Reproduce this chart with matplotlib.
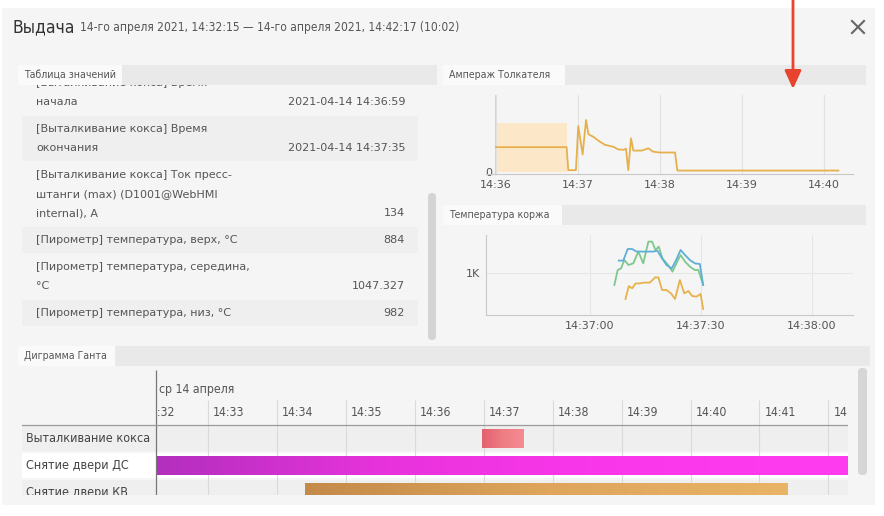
import matplotlib
matplotlib.use("Agg")
import matplotlib.pyplot as plt
import matplotlib.font_manager as fm
import matplotlib.transforms as mtransforms
import numpy as np
from matplotlib.colors import LinearSegmentedColormap
from matplotlib.patches import FancyArrowPatch, FancyBboxPatch, Rectangle

W, H = 884, 516

# ---- data ----
title = "Выдача"
period = "14-го апреля 2021, 14:32:15 — 14-го апреля 2021, 14:42:17 (10:02)"

table_labels = [
    ["[Выталкивание кокса] Время", "начала"],
    ["[Выталкивание кокса] Время", "окончания"],
    ["[Выталкивание кокса] Ток пресс-", "штанги (max) (D1001@WebHMI", "internal), A"],
    ["[Пирометр] температура, верх, °C"],
    ["[Пирометр] температура, середина,", "°C"],
    ["[Пирометр] температура, низ, °C"],
]
table_values = ["2021-04-14 14:36:59", "2021-04-14 14:37:35", "134", "884", "1047.327", "982"]

# pusher current, seconds after 14:36:00
amp_t = [0, 51.7, 52.9, 58.5, 60.2, 63.4, 65.9, 67.6, 71.2, 76.1, 79.8, 85.9, 89.5,
         93.2, 95.1, 96.8, 98.8, 100.5, 106.6, 111.5, 115.1, 120, 131, 132.7, 250.5]
amp_v = [64, 64, 4, 4, 119, 45, 135, 98, 91, 78, 70, 65, 58,
         57, 60, 4, 87, 55, 55, 61, 52, 50, 50, 3, 3]
amp_band_t = [0, 51.7]
amp_band_top = 128
amp_ticks = [0, 60, 120, 180, 240]
amp_tick_labels = ["14:36", "14:37", "14:38", "14:39", "14:40"]

# cake temperature, seconds after 14:37:00
green_t = [6.6, 7.5, 8.4, 9.3, 10.4, 11.7, 13.1, 14.4, 15.8, 16.8, 17.7, 18.6, 19.6,
           21.1, 22.3, 23.6, 24.5, 25.7, 27.0, 28.3, 29.3, 30.6]
green_v = [940, 1015, 1023, 1065, 1040, 1048, 1107, 1048, 1157, 1157, 1115, 1132, 1073,
           1040, 1007, 1057, 1090, 1057, 1032, 1015, 1015, 940]
blue_t = [7.8, 9.0, 10.2, 11.4, 12.6, 14.0, 15.3, 17.1, 18.2, 19.5, 20.7, 22.1, 23.3,
          24.5, 25.7, 27.0, 28.4, 29.7, 30.6]
blue_v = [1062, 1062, 1120, 1120, 1107, 1107, 1107, 1107, 1112, 1073, 1040, 1023, 1065,
          1115, 1090, 1065, 1048, 1045, 940]
orange_t = [9.6, 10.5, 11.4, 12.3, 13.5, 14.6, 16.2, 17.6, 18.5, 19.5, 20.7, 21.9, 23.0,
            24.3, 25.5, 26.6, 27.6, 28.8, 29.9, 30.6]
orange_v = [870, 935, 923, 948, 948, 952, 952, 978, 978, 915, 915, 898, 870,
            965, 898, 910, 885, 882, 895, 820]
temp_ticks = [0, 30, 60]
temp_tick_labels = ["14:37:00", "14:37:30", "14:38:00"]

# gantt, seconds after 14:32:00
gantt_rows = ["Выталкивание кокса", "Снятие двери ДС", "Снятие двери КВ"]
gantt_start = [299, 15, 145]
gantt_end = [335, 617, 565]
gantt_view = [15, 617]
gantt_ticks = [0, 60, 120, 180, 240, 300, 360, 420, 480, 540, 600]
gantt_tick_labels = ["14:32", "14:33", "14:34", "14:35", "14:36", "14:37",
                     "14:38", "14:39", "14:40", "14:41", "14:42"]
gantt_day = "ср 14 апреля"

# ---- fonts ----
entries = fm.fontManager.ttflist
if any(f.name == "DejaVu Sans" and f.stretch == "condensed" for f in entries):
    COND = dict(family="DejaVu Sans", fontstretch="condensed")
elif any(f.name == "Liberation Sans Narrow" for f in entries):
    COND = dict(family="Liberation Sans Narrow")
else:
    COND = dict(family="Roboto")
plt.rcParams["font.family"] = "DejaVu Sans"
TXT = "#555555"

fig = plt.figure(figsize=(W / 100, H / 100), dpi=100)
fig.patch.set_facecolor("white")


def px_axes(x0, y0, x1, y1):
    return fig.add_axes([x0 / W, 1 - y1 / H, (x1 - x0) / W, (y1 - y0) / H])


ui = fig.add_axes([0, 0, 1, 1])
ui.set_xlim(0, W)
ui.set_ylim(H, 0)
ui.axis("off")

# dialog + header
ui.add_patch(Rectangle((2, 8), 873, 497, fc="#f5f5f5", ec="none"))
ui.text(12, 27, title, fontsize=12.5, color="#333333", va="center", **COND)
ui.text(80, 28, period, fontsize=8.6, color=TXT, va="center", **COND)
ui.plot([852, 864], [21, 33], color="#666666", lw=1.5)
ui.plot([852, 864], [33, 21], color="#666666", lw=1.5)

# panels with tabs
panels = [
    (18, 65, 437, 343, "Таблица значений", 104),
    (443, 65, 866, 200, "Ампераж Толкателя", 122),
    (443, 205, 866, 343, "Температура коржа", 119),
    (18, 346, 870, 497, "Диграмма Ганта", 97),
]
for x0, y0, x1, y1, name, tw in panels:
    ui.add_patch(Rectangle((x0, y0), x1 - x0, y1 - y0, fc="#fcfcfc", ec="none", zorder=0.5))
    ui.add_patch(Rectangle((x0, y0), x1 - x0, 20, fc="#e9e9e9", ec="none", zorder=3))
    ui.add_patch(Rectangle((x0, y0), tw, 20, fc="#fafafa", ec="none", zorder=3.1))
    ui.text(x0 + 6, y0 + 10, name, fontsize=7.6, color=TXT, va="center", zorder=4, **COND)

# value table (scrolled: first line hides under the tab strip)
table_clip = mtransforms.TransformedBbox(
    mtransforms.Bbox.from_extents(18, 85, 437, 343), ui.transData)
y = 83
for i, (lines, val) in enumerate(zip(table_labels, table_values)):
    if i % 2 == 1:
        ui.add_patch(Rectangle((22, y - 13), 396, (len(lines) - 1) * 19 + 26,
                               fc="#efefef", ec="none", zorder=1))
    for k, line in enumerate(lines):
        t = ui.text(36, y + k * 19, line, fontsize=8, color=TXT, va="center", zorder=2)
        t.set_clip_box(table_clip)
        t.set_clip_on(True)
    ui.text(405, y + (len(lines) - 1) * 19, val, fontsize=8, color=TXT,
            va="center", ha="right", zorder=2)
    y += (len(lines) - 1) * 19 + 27
ui.add_patch(FancyBboxPatch((428, 193), 8, 147, boxstyle="round,pad=0,rounding_size=4",
                            fc="#d4d4d4", ec="none", zorder=2))
ui.add_patch(FancyBboxPatch((858, 368), 9, 107, boxstyle="round,pad=0,rounding_size=4",
                            fc="#d6d6d6", ec="none", zorder=2))

# red pointer arrow
ui.add_patch(FancyArrowPatch((793, 0), (793, 89), arrowstyle="-|>,head_length=1.1,head_width=0.5",
                             mutation_scale=10, color="#e8432d", lw=2, shrinkA=0, shrinkB=0, zorder=6))

# ---- pusher current ----
ax1 = px_axes(495, 95, 853, 174)
ax1.set_facecolor("none")
ax1.fill_between(amp_band_t, 0, amp_band_top, color="#fce8c8", lw=0, zorder=1)
ax1.plot(amp_t, amp_v, color="#e6b04c", lw=1.3, zorder=3)
ax1.set_xlim(-0.7, 261.2)
ax1.set_ylim(-6, 200)
ax1.set_xticks(amp_ticks, amp_tick_labels)
ax1.set_yticks([0], ["0"])
ax1.grid(axis="x", color="#e2e2e2", lw=0.8)
for s in ["top", "right"]:
    ax1.spines[s].set_visible(False)
ax1.spines["left"].set_color("#d5d5d5")
ax1.spines["bottom"].set_color("#c8c8c8")
ax1.plot([-0.025, 0], [0, 0], transform=ax1.transAxes, color="#c8c8c8", lw=0.8, clip_on=False)
ax1.tick_params(length=0, labelsize=8, labelcolor=TXT)
ax1.tick_params(axis="x", pad=4)
ax1.tick_params(axis="y", pad=2)

# ---- cake temperature ----
ax2 = px_axes(486, 235, 853, 315)
ax2.set_facecolor("none")
ax2.plot(green_t, green_v, color="#7ec88e", lw=1.3, zorder=3)
ax2.plot(blue_t, blue_v, color="#5eaed8", lw=1.3, zorder=3)
ax2.plot(orange_t, orange_v, color="#e8b24a", lw=1.3, zorder=3)
ax2.set_xlim(-28.1, 71.1)
ax2.set_ylim(790, 1190)
ax2.set_xticks(temp_ticks, temp_tick_labels)
ax2.set_yticks([1000], ["1K"])
ax2.grid(color="#e6e6e6", lw=0.8)
for s in ["top", "right"]:
    ax2.spines[s].set_visible(False)
ax2.spines["left"].set_color("#c8c8c8")
ax2.spines["bottom"].set_color("#c8c8c8")
ax2.tick_params(length=0, labelsize=8, labelcolor=TXT)
ax2.tick_params(axis="x", pad=4)
ax2.tick_params(axis="y", pad=4)

# ---- gantt ----
G_LEFT, G_AXIS, G_RIGHT = 22, 156, 848
G_TOP, G_GRID, G_DAY, G_LAB, G_HDR, G_BOT, ROW_H = 370, 400, 390, 413, 425, 495, 27
ax3 = px_axes(G_LEFT, G_TOP, G_RIGHT, G_BOT)
ax3.set_facecolor("none")
ax3.axis("off")
s_per_px = (gantt_view[1] - gantt_view[0]) / (G_RIGHT - G_AXIS)
x_lo = gantt_view[0] - (G_AXIS - G_LEFT) * s_per_px
y_bot = (G_BOT - G_HDR) / ROW_H
y_top = -(G_HDR - G_TOP) / ROW_H
row_y = lambda py: (py - G_HDR) / ROW_H

row_bg = ["#efefef", "#ffffff", "#efefef"]
row_tr = mtransforms.blended_transform_factory(ax3.transAxes, ax3.transData)
for i, name in enumerate(gantt_rows):
    ax3.axhspan(i + 0.04, i + 0.96, color=row_bg[i], lw=0, zorder=0)
    t = ax3.text(0.005, i + 0.5, name, fontsize=9, color="#444444", va="center",
                 transform=row_tr, **COND)
    t.set_clip_box(ax3.bbox)
    t.set_clip_on(True)

ax3.vlines(gantt_ticks[1:], row_y(G_GRID), y_bot, color="#dadada", lw=0.8, zorder=1)
ax3.vlines(gantt_view[0], y_top, y_bot, color="#777777", lw=0.9, zorder=4)
ax3.axhline(0, color="#9a9a9a", lw=0.9, zorder=4)

bar_maps = [
    ["#e2616f", "#ef7d84", "#f48c91"],
    ["#b32fbe", "#e833dc", "#fb37ec", "#ff3cef"],
    ["#c38a4a", "#dea55b", "#e9b466"],
]
grad = np.linspace(0, 1, 256)[None, :]
for i, (s, e) in enumerate(zip(gantt_start, gantt_end)):
    cmap = LinearSegmentedColormap.from_list(f"bar{i}", bar_maps[i])
    ax3.imshow(grad, cmap=cmap, aspect="auto", interpolation="bilinear",
               extent=(s, e, i + 0.85, i + 0.15), zorder=3)

ax3.set_xlim(x_lo, gantt_view[1])
ax3.set_ylim(y_bot, y_top)

# time labels are cut off where the time area ends (":32" on the left, "14" on the right)
time_clip = mtransforms.TransformedBbox(
    mtransforms.Bbox.from_extents(gantt_view[0], y_top, gantt_view[1], y_bot), ax3.transData)
lab_tr = mtransforms.offset_copy(ax3.transData, fig=fig, x=5, y=0, units="dots")
for t, lab in zip(gantt_ticks, gantt_tick_labels):
    txt = ax3.text(t, row_y(G_LAB), lab, fontsize=8.8, color=TXT, va="center", ha="left",
                   transform=lab_tr, **COND)
    txt.set_clip_box(time_clip)
    txt.set_clip_on(True)
day_tr = mtransforms.offset_copy(ax3.transData, fig=fig, x=3, y=0, units="dots")
ax3.text(gantt_view[0], row_y(G_DAY), gantt_day, fontsize=8.8, color=TXT, va="center",
         transform=day_tr, **COND)

fig.savefig("out.png", dpi=100)
